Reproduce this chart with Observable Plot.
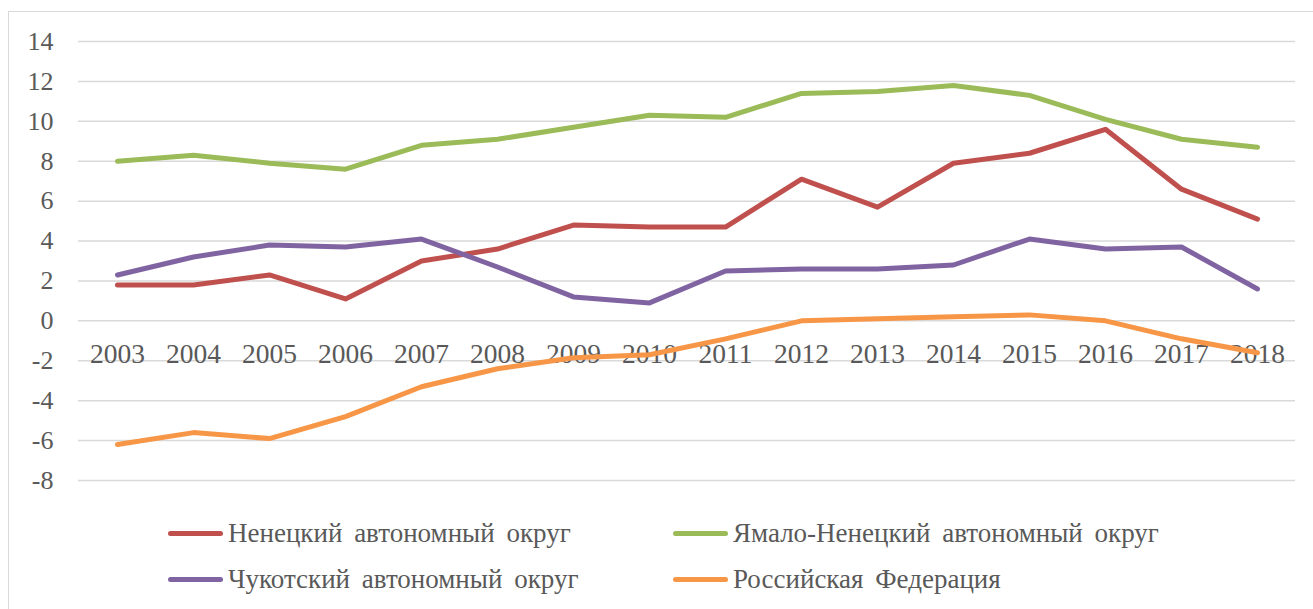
<!DOCTYPE html>
<html>
<head>
<meta charset="utf-8">
<script src="https://cdn.jsdelivr.net/npm/d3@7"></script>
<script src="https://cdn.jsdelivr.net/npm/@observablehq/plot@0.6"></script>
<style>
  html, body { margin: 0; padding: 0; background: #fff; }
  body { width: 1313px; height: 609px; overflow: hidden; position: relative; font-family: "Liberation Serif", "Times New Roman", "DejaVu Serif", serif; }
  #frame { position: absolute; left: 8px; top: 11px; width: 1320px; height: 620px; border: 1.5px solid #d9d9d9; box-sizing: border-box; }
  #chart { position: absolute; left: 0; top: 0; }
  #legend { position: absolute; left: 168px; top: 510px; display: grid; grid-template-columns: 505px 505px; grid-auto-rows: 46px; color: #595959; font-size: 27px; word-spacing: 5px; }
  .item { display: flex; align-items: center; white-space: nowrap; }
  .sw { width: 55px; height: 5px; border-radius: 3px; margin-right: 5px; flex: none; }
</style>
</head>
<body>
<div id="frame"></div>
<div id="chart"></div>
<div id="legend"></div>
<script>
const years = ["2003","2004","2005","2006","2007","2008","2009","2010","2011","2012","2013","2014","2015","2016","2017","2018"];
const seriesNames = ["Ненецкий автономный округ", "Ямало-Ненецкий автономный округ", "Чукотский автономный округ", "Российская Федерация"];
const seriesColors = ["#C0504D", "#9BBB59", "#8064A2", "#F79646"];
const nenets = [1.8, 1.8, 2.3, 1.1, 3.0, 3.6, 4.8, 4.7, 4.7, 7.1, 5.7, 7.9, 8.4, 9.6, 6.6, 5.1];
const yamal  = [8.0, 8.3, 7.9, 7.6, 8.8, 9.1, 9.7, 10.3, 10.2, 11.4, 11.5, 11.8, 11.3, 10.1, 9.1, 8.7];
const chukot = [2.3, 3.2, 3.8, 3.7, 4.1, 2.7, 1.2, 0.9, 2.5, 2.6, 2.6, 2.8, 4.1, 3.6, 3.7, 1.6];
const russia = [-6.2, -5.6, -5.9, -4.8, -3.3, -2.4, -1.85, -1.7, -0.9, 0.0, 0.1, 0.2, 0.3, 0.0, -0.9, -1.6];
const yTicks = [-8, -6, -4, -2, 0, 2, 4, 6, 8, 10, 12, 14];

const allSeries = [nenets, yamal, chukot, russia];
const rows = [];
allSeries.forEach((vals, si) => vals.forEach((v, i) => rows.push({series: seriesNames[si], year: years[i], value: v})));

const font = "'Liberation Serif', 'Times New Roman', 'DejaVu Serif', serif";
const plot = Plot.plot({
  width: 1313,
  height: 500,
  marginLeft: 78,
  marginRight: 18,
  marginTop: 41,
  marginBottom: 20,
  style: { fontFamily: font, background: "transparent", overflow: "visible" },
  x: { type: "point", domain: years, padding: 0.5, axis: null },
  y: { domain: [-8, 14], ticks: yTicks, axis: null },
  color: { domain: seriesNames, range: seriesColors },
  marks: [
    Plot.ruleY(yTicks, { stroke: "#d9d9d9", strokeWidth: 1.5 }),
    Plot.axisY({ ticks: yTicks, tickSize: 0, tickPadding: 25, tickFormat: d => String(d), fontSize: 26, fill: "#595959", fontFamily: font, label: null }),
    Plot.text(years, { x: d => d, y: () => 0, dy: 33, text: d => d, fontSize: 27.5, fill: "#595959", fontFamily: font }),
    Plot.line(rows, { x: "year", y: "value", z: "series", stroke: "series", strokeWidth: 5, strokeLinecap: "round", strokeLinejoin: "round" })
  ]
});
document.getElementById("chart").appendChild(plot);

const legend = document.getElementById("legend");
seriesNames.forEach((name, i) => {
  const item = document.createElement("div");
  item.className = "item";
  const sw = document.createElement("span");
  sw.className = "sw";
  sw.style.background = seriesColors[i];
  const t = document.createElement("span");
  t.textContent = name;
  item.appendChild(sw);
  item.appendChild(t);
  legend.appendChild(item);
});
</script>
</body>
</html>
